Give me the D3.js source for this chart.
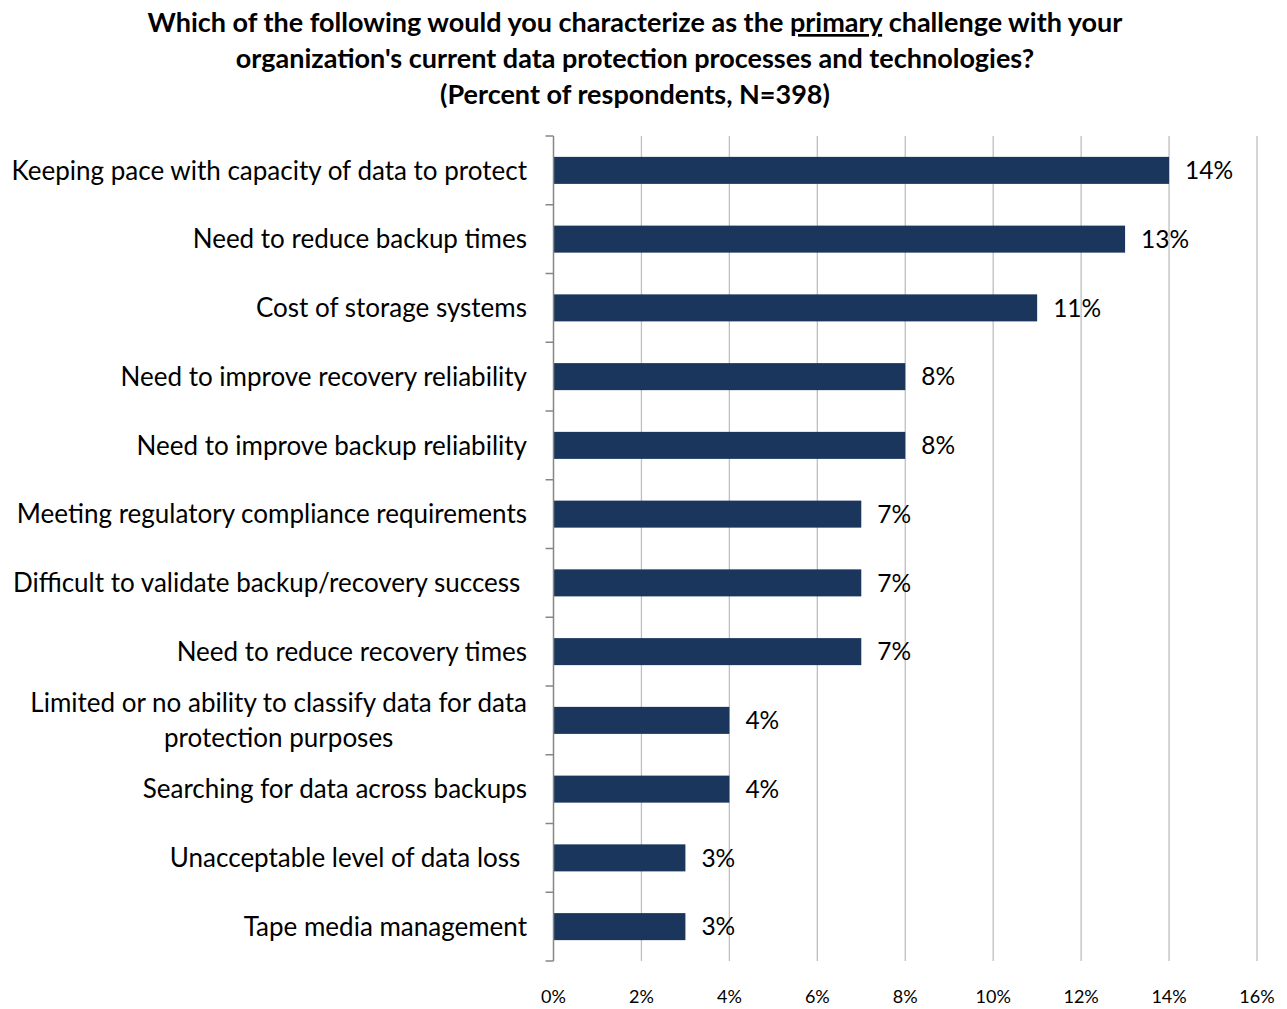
<!DOCTYPE html>
<html><head><meta charset="utf-8">
<script src="https://cdn.jsdelivr.net/npm/d3@7/dist/d3.min.js"></script>
<style>body{margin:0;background:#fff}svg{display:block}text{white-space:pre}</style>
</head><body><svg id="c" width="1287" height="1009"></svg>
<script>
const categories = [
  "Keeping pace with capacity of data to protect",
  "Need to reduce backup times",
  "Cost of storage systems",
  "Need to improve recovery reliability",
  "Need to improve backup reliability",
  "Meeting regulatory compliance requirements",
  "Difficult to validate backup/recovery success ",
  "Need to reduce recovery times",
  "Limited or no ability to classify data for data\nprotection purposes",
  "Searching for data across backups",
  "Unacceptable level of data loss ",
  "Tape media management"
];
const values = [14, 13, 11, 8, 8, 7, 7, 7, 4, 4, 3, 3];
const xTicks = [0, 2, 4, 6, 8, 10, 12, 14, 16];
const titleLines = [
  ["Which of the following would you characterize as the ", "primary", " challenge with your"],
  ["organization's current data protection processes and technologies?"],
  ["(Percent of respondents, N=398)"]
];

const svg = d3.select("#c");
const font = "Lato, 'Open Sans', sans-serif";
const x = d3.scaleLinear().domain([0, 16]).range([553.5, 1257]);
const y = d3.scaleBand().domain(categories).range([136, 961]).paddingInner(0.607).paddingOuter(0.3035);

// title
const tg = svg.append("g");
titleLines.forEach((parts, i) => {
  const t = tg.append("text").attr("x", 635).attr("y", 32 + i * 36)
    .attr("text-anchor", "middle").attr("font-family", font).attr("font-weight", "bold")
    .attr("font-size", 27).attr("fill", "#000");
  parts.forEach((p, j) => {
    t.append("tspan").text(p).attr("text-decoration", (parts.length > 1 && j === 1) ? "underline" : null);
  });
});

// gridlines
svg.append("g").selectAll("line").data(xTicks.slice(1)).join("line")
  .attr("x1", d => x(d)).attr("x2", d => x(d)).attr("y1", 136).attr("y2", 961)
  .attr("stroke", "#bfbfbf").attr("stroke-width", 1.3);

// bars
svg.append("g").selectAll("rect").data(values).join("rect")
  .attr("x", x(0)).attr("y", (d, i) => y(categories[i]))
  .attr("width", d => x(d) - x(0)).attr("height", y.bandwidth())
  .attr("fill", "#1a365d");

// value labels
svg.append("g").selectAll("text").data(values).join("text")
  .attr("x", d => x(d) + 16).attr("y", (d, i) => y(categories[i]) + y.bandwidth() / 2)
  .attr("dy", "0.36em").attr("font-family", font).attr("font-size", 24.5).attr("fill", "#000")
  .text(d => d + "%");

// left axis line and ticks
const ax = svg.append("g");
ax.append("line").attr("x1", x(0)).attr("x2", x(0)).attr("y1", 136).attr("y2", 961)
  .attr("stroke", "#868686").attr("stroke-width", 1.5);
const boundaries = d3.range(categories.length + 1).map(i => 136 + i * (825 / categories.length));
ax.selectAll("line.t").data(boundaries).join("line").attr("class", "t")
  .attr("x1", x(0) - 8).attr("x2", x(0)).attr("y1", d => d).attr("y2", d => d)
  .attr("stroke", "#868686").attr("stroke-width", 1.5);

// category labels
const lfs = 26;
const lg = svg.append("g");
categories.forEach((c, i) => {
  const lines = c.split("\n");
  const cy = y(c) + y.bandwidth() / 2;
  const t = lg.append("text").attr("font-family", font).attr("font-size", lfs).attr("fill", "#000");
  if (lines.length === 1) {
    t.attr("x", 527).attr("y", cy).attr("dy", "0.36em").attr("text-anchor", "end").text(c);
  } else {
    const tmp = lg.append("text").attr("font-family", font).attr("font-size", lfs).text(lines[0]);
    const w = tmp.node().getComputedTextLength(); tmp.remove();
    const cx = 527 - w / 2;
    t.attr("text-anchor", "middle");
    lines.forEach((l, k) => {
      t.append("tspan").attr("x", cx).attr("y", cy + (k - (lines.length - 1) / 2) * 35).attr("dy", "0.36em").text(l);
    });
  }
});

// x tick labels
svg.append("g").selectAll("text").data(xTicks).join("text")
  .attr("x", d => x(d)).attr("y", 997).attr("dy", "0.35em").attr("text-anchor", "middle")
  .attr("font-family", font).attr("font-size", 18).attr("fill", "#000").text(d => d + "%");
</script></body></html>
